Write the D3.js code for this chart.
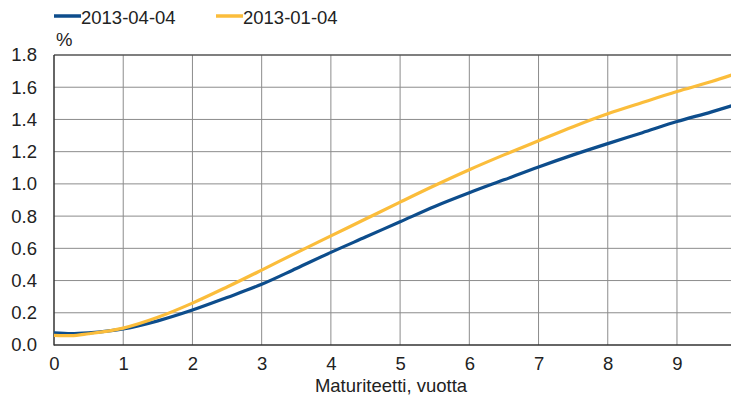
<!DOCTYPE html>
<html>
<head>
<meta charset="utf-8">
<script src="https://cdn.jsdelivr.net/npm/d3@7"></script>
<style>
  body { margin: 0; background: #fff; }
  svg { display: block; font-family: "Liberation Sans", Arial, sans-serif; }
</style>
</head>
<body>
<svg id="chart" width="731" height="398"></svg>
<script>
// Maturity in years
const maturities = [0, 0.25, 0.5, 1, 1.5, 2, 2.5, 3, 3.5, 4, 4.5, 5, 5.5, 6, 6.5, 7, 7.5, 8, 8.5, 9, 9.5, 9.8];
// Yield curve 2013-04-04 (%)
const curveApr = [0.075, 0.07, 0.075, 0.10, 0.15, 0.217, 0.295, 0.377, 0.475, 0.575, 0.67, 0.765, 0.86, 0.945, 1.025, 1.105, 1.18, 1.25, 1.318, 1.387, 1.447, 1.486];
// Yield curve 2013-01-04 (%)
const curveJan = [0.06, 0.058, 0.07, 0.105, 0.172, 0.26, 0.36, 0.465, 0.572, 0.677, 0.782, 0.887, 0.99, 1.088, 1.18, 1.268, 1.355, 1.435, 1.505, 1.573, 1.635, 1.677];
const seriesNames = ["2013-04-04", "2013-01-04"];
const seriesColors = ["#0d4d8c", "#fbbd3b"];
const xTicks = [0, 1, 2, 3, 4, 5, 6, 7, 8, 9];
const yTicks = [0, 0.2, 0.4, 0.6, 0.8, 1.0, 1.2, 1.4, 1.6, 1.8];

const svg = d3.select("#chart");
const plotLeft = 54, plotRight = 731, plotTop = 55, plotBottom = 345;
const fontSize = 18.5;

const x = d3.scaleLinear().domain([0, (plotRight - plotLeft) / 69.22]).range([plotLeft, plotRight]);
const y = d3.scaleLinear().domain([0, 1.8]).range([plotBottom, plotTop]);

// Gridlines
svg.append("g").selectAll("line").data(xTicks.slice(1)).join("line")
  .attr("x1", d => x(d)).attr("x2", d => x(d))
  .attr("y1", plotTop).attr("y2", plotBottom)
  .attr("stroke", "#8c8c8c").attr("stroke-width", 1);
svg.append("g").selectAll("line").data(yTicks.slice(1)).join("line")
  .attr("x1", plotLeft).attr("x2", plotRight)
  .attr("y1", d => y(d)).attr("y2", d => y(d))
  .attr("stroke", d => d === 1.8 ? "#555" : "#8c8c8c").attr("stroke-width", d => d === 1.8 ? 1.5 : 1);

// Axes
const yAxis = d3.axisLeft(y).tickValues(yTicks).tickFormat(d3.format(".1f")).tickSize(0).tickPadding(17);
const gy = svg.append("g").attr("transform", `translate(${plotLeft},0)`).call(yAxis);
gy.select(".domain").remove();
gy.selectAll("text").attr("font-size", fontSize).attr("fill", "#222").attr("font-family", "Liberation Sans, Arial, sans-serif");

const xAxis = d3.axisBottom(x).tickValues(xTicks).tickFormat(d3.format("d")).tickSize(0).tickPadding(12);
const gx = svg.append("g").attr("transform", `translate(0,${plotBottom})`).call(xAxis);
gx.select(".domain").remove();
gx.selectAll("text").attr("font-size", fontSize).attr("fill", "#222").attr("font-family", "Liberation Sans, Arial, sans-serif");

svg.append("line").attr("x1", plotLeft).attr("x2", plotLeft).attr("y1", plotTop).attr("y2", plotBottom + 0.5)
  .attr("stroke", "#333").attr("stroke-width", 1.5);
svg.append("line").attr("x1", plotLeft).attr("x2", plotRight).attr("y1", plotBottom).attr("y2", plotBottom)
  .attr("stroke", "#333").attr("stroke-width", 1.5);

// Curves
const line = d3.line().x((d, i) => x(maturities[i])).y(d => y(d)).curve(d3.curveMonotoneX);
[curveApr, curveJan].forEach((vals, i) => {
  svg.append("path").datum(vals).attr("d", line)
    .attr("fill", "none").attr("stroke", seriesColors[i]).attr("stroke-width", 3.2)
    .attr("stroke-linejoin", "round");
});

// Labels
svg.append("text").attr("x", 56).attr("y", 46).attr("font-size", fontSize).attr("fill", "#222").text("%");
svg.append("text").attr("x", 391).attr("y", 392).attr("text-anchor", "middle")
  .attr("font-size", fontSize).attr("fill", "#222").text("Maturiteetti, vuotta");

// Legend
const legendX = [54, 216];
seriesNames.forEach((name, i) => {
  const g = svg.append("g").attr("transform", `translate(${legendX[i]},16)`);
  g.append("line").attr("x1", 0).attr("x2", 27).attr("y1", 0).attr("y2", 0)
    .attr("stroke", seriesColors[i]).attr("stroke-width", 3.5);
  g.append("text").attr("x", 27).attr("y", 8).attr("font-size", fontSize).attr("fill", "#222").text(name);
});
</script>
</body>
</html>
